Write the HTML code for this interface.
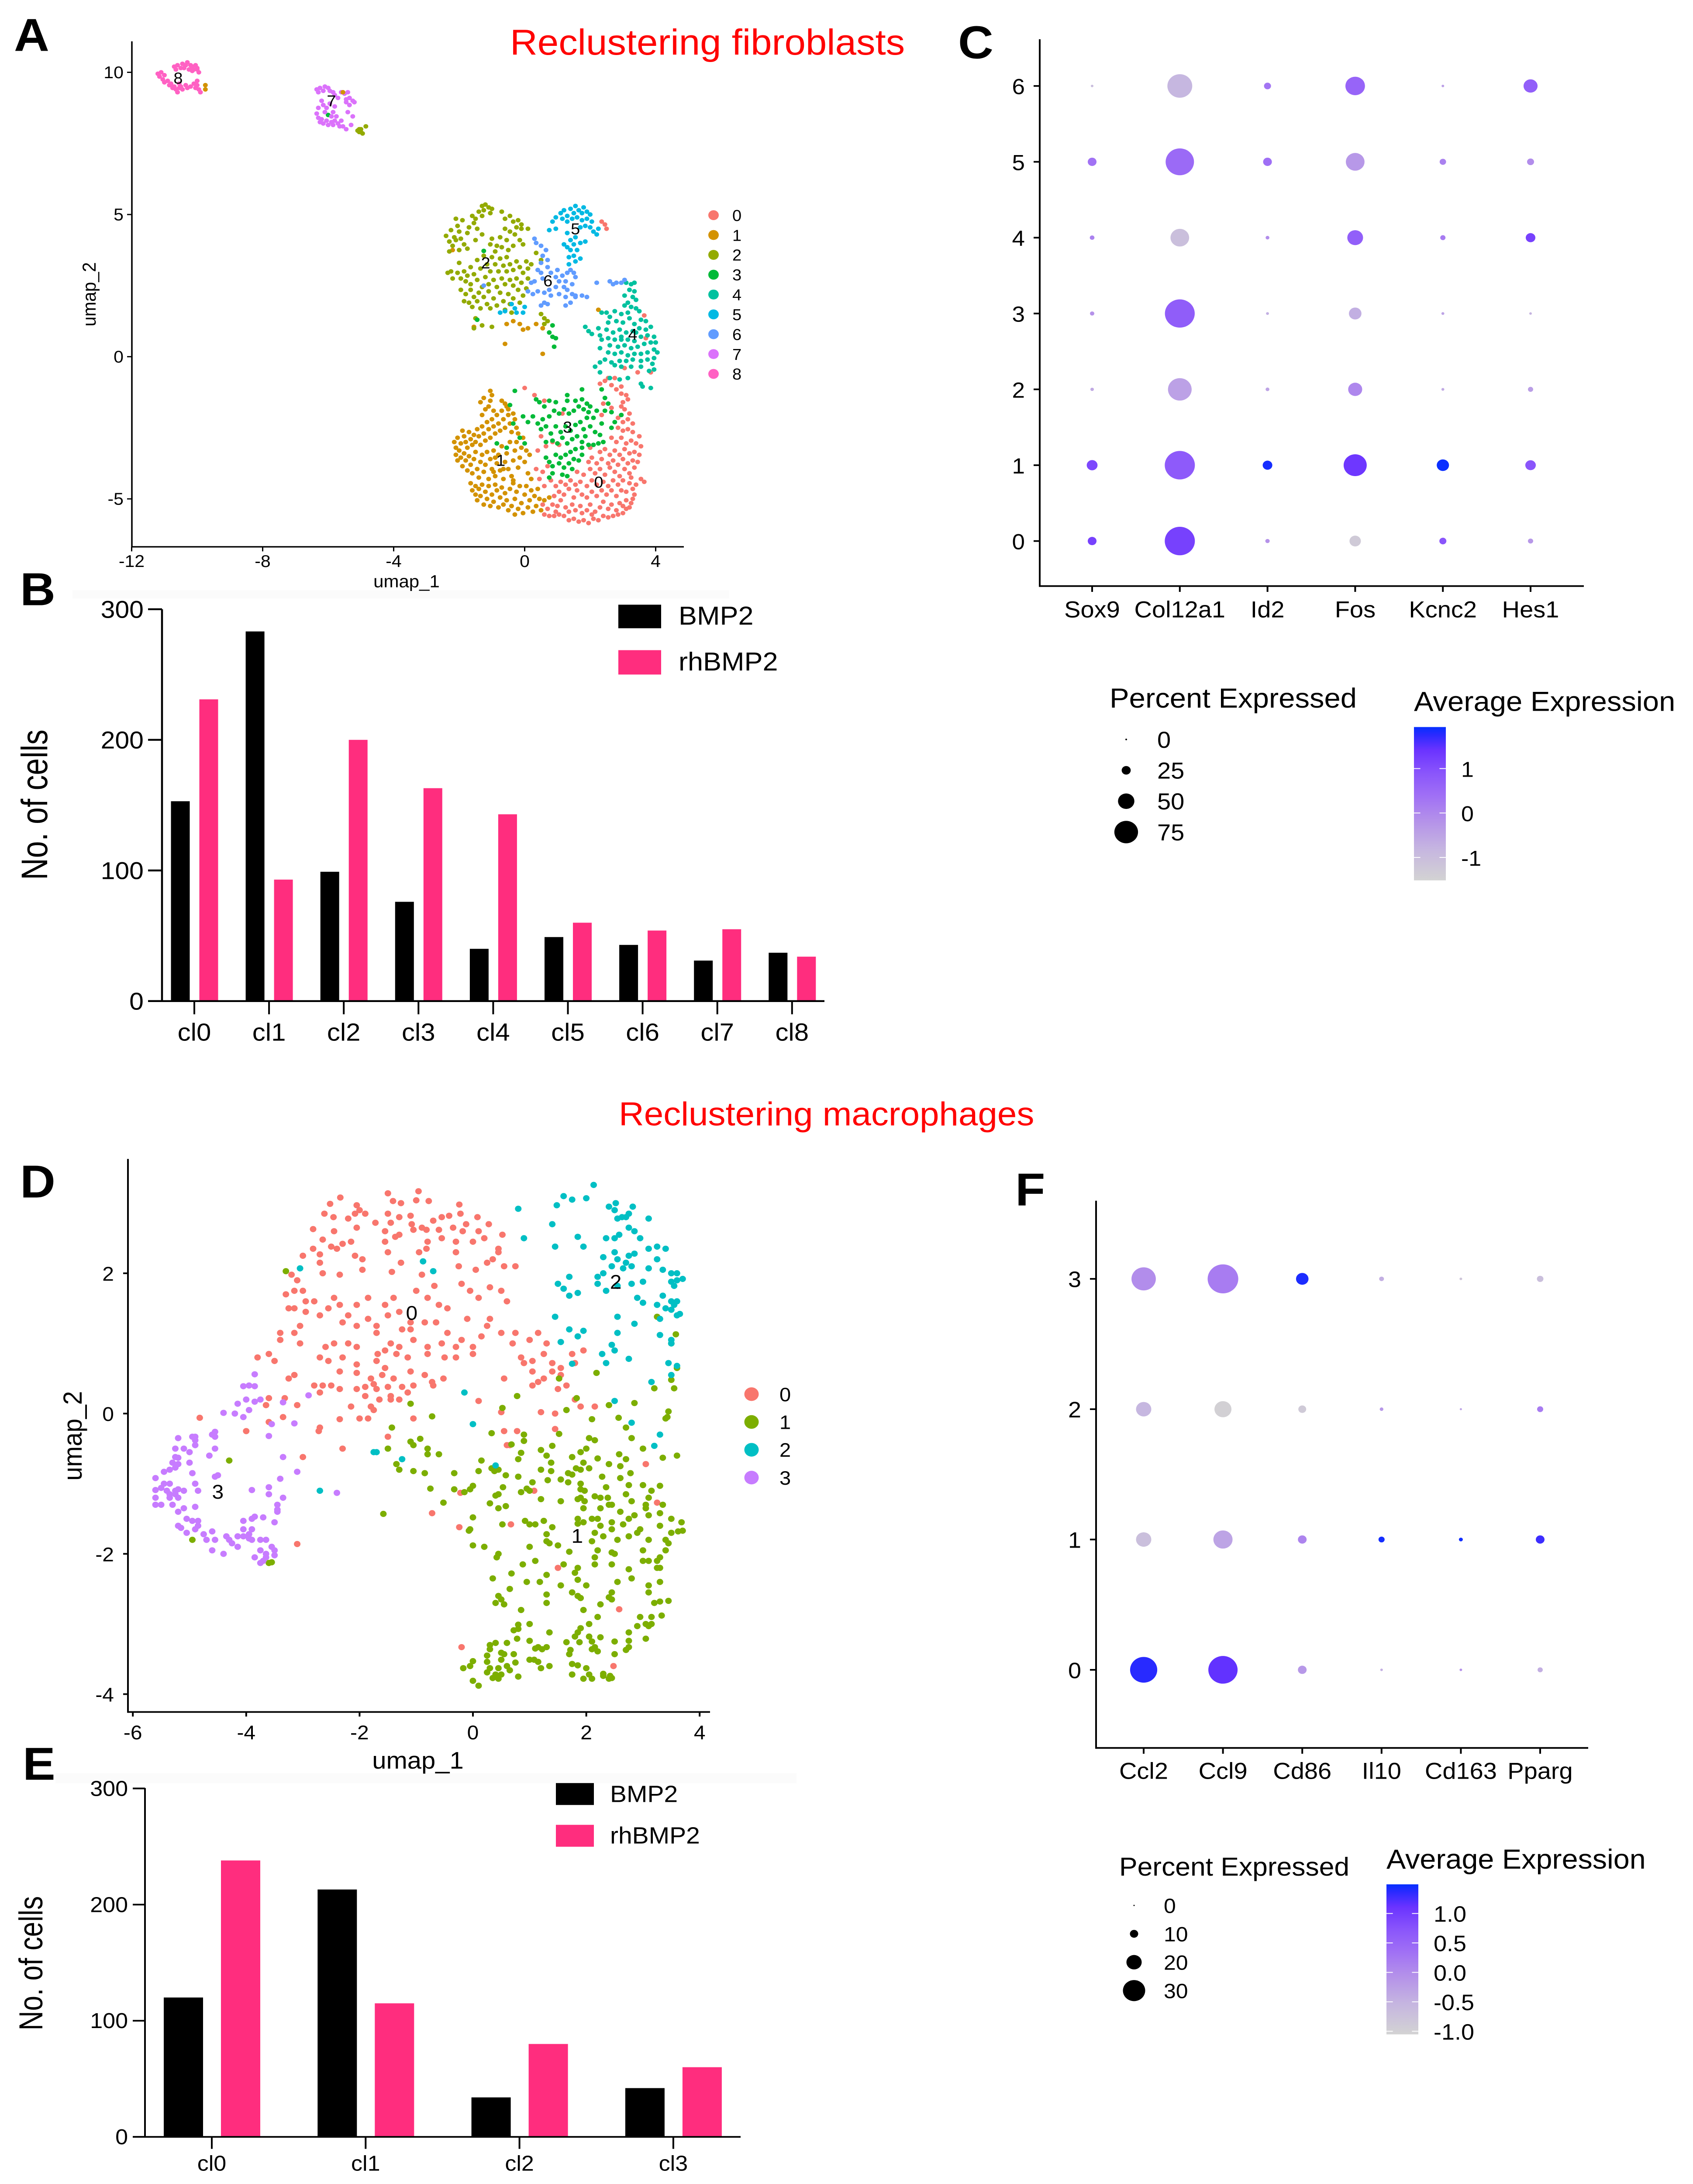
<!DOCTYPE html>
<html lang="en">
<head>
<meta charset="utf-8">
<title>Reclustering fibroblasts and macrophages</title>
<style>
html,body{margin:0;padding:0;background:#fff;overflow:hidden;}
svg{display:block;width:3877px;height:min(5284px,100vh);}
text{font-family:"Liberation Sans",sans-serif;fill:#000;}
</style>
</head>
<body>
<svg id="figure" xmlns="http://www.w3.org/2000/svg" viewBox="0 0 3877 5284" preserveAspectRatio="none">
<rect width="3877" height="5284" fill="#fff"/>
<rect x="166" y="1428" width="1504" height="20" fill="#fbfbfb"/>
<rect x="127" y="4290" width="1697" height="24" fill="#fbfbfb"/>
<text x="32" y="123" font-size="112" font-weight="bold">A</text>
<text x="46" y="1464" font-size="112" font-weight="bold">B</text>
<text x="2194" y="141" font-size="112" font-weight="bold">C</text>
<text x="46" y="2897" font-size="112" font-weight="bold">D</text>
<text x="52" y="4306" font-size="112" font-weight="bold">E</text>
<text x="2325" y="2916" font-size="112" font-weight="bold">F</text>
<text x="1168" y="132" font-size="87" style="fill:#ff0000">Reclustering fibroblasts</text>
<text x="1417" y="2723" font-size="80" style="fill:#ff0000">Reclustering macrophages</text>

<g id="panelA">
<text x="931" y="1421" font-size="42" text-anchor="middle">umap_1</text>
<text transform="translate(219,712) rotate(-90)" font-size="43" text-anchor="middle">umap_2</text>
</g>
<g id="panelB">
<text transform="translate(108,1947) rotate(-90)" font-size="84" text-anchor="middle" textLength="364" lengthAdjust="spacingAndGlyphs">No. of cells</text>
<rect x="1416" y="1463" width="98" height="57" fill="#000"/>
<rect x="1416" y="1573" width="98" height="59" fill="#ff2d7e"/>
<text x="1554" y="1511" font-size="63">BMP2</text>
<text x="1554" y="1622" font-size="63">rhBMP2</text>
</g>
<g id="panelC">
<text x="2541" y="1712" font-size="67">Percent Expressed</text>
<text x="3238" y="1720" font-size="67">Average Expression</text>
</g>
<g id="panelD">
<text x="957" y="4279" font-size="58" text-anchor="middle">umap_1</text>
<text transform="translate(187,3474) rotate(-90)" font-size="60" text-anchor="middle">umap_2</text>
</g>
<g id="panelE">
<text transform="translate(97,4750) rotate(-90)" font-size="76" text-anchor="middle" textLength="325" lengthAdjust="spacingAndGlyphs">No. of cells</text>
<rect x="1273" y="4314" width="87" height="53" fill="#000"/>
<rect x="1273" y="4415" width="87" height="53" fill="#ff2d7e"/>
<text x="1397" y="4360" font-size="57">BMP2</text>
<text x="1397" y="4460" font-size="57">rhBMP2</text>
</g>
<g id="panelF">
<text x="2563" y="4538" font-size="62.4">Percent Expressed</text>
<text x="3175" y="4521" font-size="66.5">Average Expression</text>
</g>
</svg>

<script>
/* ---------- Panel A data: umap_1,umap_2 pairs per cluster ---------- */
const fibroC0=[0.6,-5.55,0.75,-5.6,0.95,-5.45,1.05,-5.55,1.2,-5.6,1.35,-5.75,1.5,-5.7,1.65,-5.8,1.8,-5.75,1.95,-5.85,2.1,-5.7,2.25,-5.75,2.4,-5.6,2.55,-5.65,2.7,-5.6,2.85,-5.55,3.0,-5.5,3.1,-5.35,3.2,-5.3,3.25,-5.15,3.3,-5.0,3.35,-4.85,0.55,-5.2,0.7,-5.35,0.85,-5.2,1.0,-5.25,1.1,-5.05,1.25,-5.3,1.35,-5.45,1.45,-5.2,1.55,-5.4,1.7,-5.25,1.75,-5.5,1.9,-5.4,2.0,-5.2,2.15,-5.45,2.3,-5.3,2.4,-5.1,2.55,-5.35,2.65,-5.2,2.8,-5.4,2.9,-5.15,3.0,-5.25,3.1,-5.05,0.9,-4.9,1.05,-4.75,1.2,-4.85,1.35,-4.65,1.5,-4.95,1.6,-4.7,1.75,-4.85,1.9,-4.95,2.05,-4.75,2.2,-4.9,2.35,-4.7,2.5,-4.85,2.65,-4.7,2.8,-4.9,2.95,-4.7,3.1,-4.75,3.3,-4.65,3.4,-4.5,3.55,-4.3,3.65,-4.4,3.2,-4.45,3.0,-4.35,2.85,-4.5,2.7,-4.35,2.55,-4.55,2.4,-4.4,2.2,-4.5,2.05,-4.35,1.9,-4.55,1.7,-4.4,1.55,-4.5,1.4,-4.35,1.25,-4.5,1.1,-4.4,0.95,-4.55,0.8,-4.35,0.6,-4.55,0.45,-4.3,0.35,-3.95,0.55,-4.05,0.7,-3.85,1.6,-4.05,1.8,-4.15,2.0,-3.95,2.15,-4.1,2.3,-3.95,2.45,-4.15,2.6,-3.9,2.75,-4.05,2.9,-4.2,3.05,-3.95,3.2,-4.1,3.35,-3.9,3.45,-3.7,3.3,-3.65,3.15,-3.75,3.0,-3.6,2.85,-3.8,2.7,-3.65,2.55,-3.75,2.35,-3.6,2.2,-3.75,2.05,-3.55,1.95,-3.7,3.5,-3.45,3.35,-3.35,3.2,-3.4,3.05,-3.25,2.9,-3.45,2.75,-3.3,2.6,-3.45,2.45,-3.25,2.3,-3.35,0.4,-3.3,0.65,-3.15,0.85,-3.0,1.05,-3.1,2.0,-3.2,3.55,-3.15,3.4,-3.05,3.25,-2.95,3.1,-3.05,2.95,-2.85,2.8,-3.0,2.65,-2.85,3.5,-2.8,3.3,-2.65,3.15,-2.55,3.0,-2.6,2.85,-2.5,3.3,-2.35,3.15,-2.2,3.0,-2.3,2.85,-2.15,3.2,-2.0,3.05,-1.85,2.95,-1.75,3.0,-1.6,3.15,-1.5,3.1,-1.35,2.95,-1.3,2.8,-1.15,2.95,-1.05,2.65,-1.0,2.45,-0.85,2.75,-0.75,2.55,-0.75,3.45,-0.55,3.05,-0.4,2.65,-1.8,2.4,-1.65,2.35,-2.05,0.0,-1.1,0.3,-1.35,0.6,-1.55,2.3,-0.95,3.85,-0.55,3.7,0.65,3.65,1.45,1.15,-2.0,0.5,-2.8,2.35,4.75,2.45,4.65,2.5,4.5,0.9,-5.6,2.05,-5.55,3.25,-4.25];
const fibroC1=[-2.15,-3.0,-2.1,-3.2,-2.0,-3.3,-2.05,-2.85,-1.95,-3.05,-1.9,-2.6,-1.85,-2.8,-1.8,-3.0,-1.75,-3.2,-1.7,-2.65,-1.65,-2.9,-1.6,-3.1,-1.55,-2.75,-1.5,-3.0,-1.45,-2.55,-1.4,-2.8,-1.35,-3.1,-1.3,-2.45,-1.25,-2.7,-1.2,-2.95,-1.15,-2.3,-1.1,-2.55,-1.05,-2.85,-1.0,-2.2,-0.95,-2.45,-0.9,-2.7,-0.85,-2.05,-0.8,-2.35,-0.75,-2.6,-0.7,-1.9,-0.65,-2.2,-0.6,-2.5,-0.55,-1.75,-0.5,-2.05,-0.45,-2.35,-0.4,-2.65,-0.35,-2.0,-1.3,-2.05,-1.2,-1.85,-1.35,-1.6,-1.25,-1.45,-1.05,-1.2,-1.05,-1.55,-1.0,-1.35,-1.1,-1.75,-0.95,-1.9,-0.7,-1.55,-0.6,-1.65,-0.5,-1.85,-0.3,-2.2,-0.25,-2.5,-0.2,-2.7,-2.1,-3.45,-2.05,-3.65,-1.95,-3.55,-1.9,-3.85,-1.85,-3.4,-1.8,-3.65,-1.75,-4.0,-1.7,-3.5,-1.65,-3.8,-1.6,-4.1,-1.55,-3.6,-1.5,-3.35,-1.45,-3.95,-1.4,-4.25,-1.35,-3.7,-1.3,-3.45,-1.25,-4.05,-1.2,-3.8,-1.15,-3.35,-1.1,-4.3,-1.05,-3.6,-1.0,-3.95,-0.95,-3.3,-0.9,-4.2,-0.85,-3.75,-0.8,-3.45,-0.75,-4.0,-0.7,-3.15,-0.65,-4.3,-0.6,-3.7,-0.55,-3.4,-0.5,-3.95,-0.45,-3.0,-0.4,-4.2,-0.35,-3.65,-0.3,-3.3,-0.25,-3.0,-0.2,-3.9,-0.15,-3.55,-0.1,-3.2,-0.05,-2.85,0.0,-3.7,0.05,-3.3,0.1,-4.1,0.15,-3.45,0.2,-4.3,-1.65,-4.45,-1.6,-4.7,-1.5,-4.55,-1.5,-4.85,-1.45,-5.05,-1.4,-4.65,-1.35,-4.9,-1.3,-4.5,-1.25,-5.2,-1.2,-4.75,-1.15,-5.0,-1.1,-4.55,-1.05,-5.25,-1.0,-4.85,-0.95,-5.1,-0.9,-4.5,-0.85,-4.7,-0.8,-5.3,-0.75,-4.95,-0.7,-4.6,-0.65,-5.2,-0.6,-4.8,-0.55,-5.05,-0.5,-5.4,-0.45,-4.65,-0.4,-5.25,-0.35,-4.45,-0.3,-5.0,-0.3,-5.55,-0.25,-4.75,-0.2,-5.35,-0.15,-4.55,-0.1,-5.15,-0.05,-5.5,0.0,-4.85,0.05,-4.55,0.1,-5.3,0.15,-5.05,0.2,-4.7,0.25,-5.45,0.3,-4.9,0.35,-5.25,0.4,-4.65,0.45,-5.0,0.5,-5.4,0.6,-5.05,0.75,-4.95,-0.55,1.15,-0.35,1.25,-0.05,0.95,0.1,1.0,0.35,1.15,0.55,1.0,-0.6,0.45,0.55,0.1,-0.15,1.15,-1.55,1.05,-2.2,3.75,2.25,1.65,-0.95,-4.05,-0.9,-3.55,-0.65,-3.95,-0.35,-4.35];
const fibroC2=[-1.4,5.1,-1.3,5.3,-1.25,5.15,-1.2,5.35,-1.1,5.25,-1.05,5.05,-1.0,5.2,-1.3,4.95,-1.5,4.85,-1.6,4.95,-1.55,4.7,-1.45,4.5,-1.7,4.55,-1.75,4.35,-1.9,4.8,-2.05,4.6,-2.1,4.85,-2.0,4.4,-2.15,4.2,-2.25,4.45,-2.4,4.25,-2.3,4.05,-2.2,3.9,-2.1,4.1,-1.95,4.15,-1.85,3.95,-1.75,3.8,-2.3,3.7,-2.0,3.75,-1.5,4.1,-1.3,4.3,-0.7,5.1,-0.6,4.85,-0.45,4.95,-0.35,4.75,-0.2,4.8,-0.1,4.5,-0.1,4.65,-0.25,4.55,-0.45,4.4,-0.6,4.5,-0.75,4.2,-0.55,4.1,-0.3,4.3,-0.15,4.1,0.1,4.5,-0.85,3.9,-1.0,4.15,-1.05,3.95,-0.9,3.7,-0.7,3.85,-0.5,3.75,-0.35,3.9,-0.05,3.95,0.35,3.65,0.5,3.4,-2.0,3.3,-2.25,3.0,-2.35,2.95,-2.2,2.75,-2.05,2.95,-1.95,2.75,-1.85,3.0,-1.8,2.65,-1.75,2.85,-1.65,2.55,-1.65,3.15,-1.55,2.9,-1.45,3.4,-1.45,2.7,-1.35,3.1,-1.3,2.45,-1.25,3.55,-1.2,2.8,-1.15,3.25,-1.1,2.55,-1.05,3.0,-1.0,3.5,-0.95,2.7,-0.9,3.25,-0.85,2.45,-0.8,3.0,-0.75,3.45,-0.7,2.75,-0.65,3.2,-0.6,2.55,-0.55,3.0,-0.55,3.5,-0.45,2.7,-0.45,3.25,-0.35,2.5,-0.35,3.05,-0.25,2.75,-0.25,3.35,-0.15,3.15,-0.1,2.6,-0.05,2.95,0.05,3.35,0.1,3.1,0.1,2.75,0.2,3.25,-1.95,2.35,-1.8,2.2,-1.65,2.35,-1.55,2.1,-1.4,2.25,-1.85,1.95,-1.7,1.9,-1.6,1.75,-1.45,1.95,-1.35,1.7,-1.25,2.1,-1.15,1.85,-1.1,2.3,-1.05,1.7,-0.95,2.05,-0.85,1.8,-0.75,2.25,-0.65,1.95,-0.6,1.65,-0.5,2.2,-0.45,1.85,-0.35,2.05,-0.2,2.35,-0.15,1.9,-0.05,2.15,0.05,2.4,-1.5,1.35,-1.55,1.0,-1.3,1.1,-1.0,1.05,0.5,1.5,0.6,1.35,0.6,1.15,-0.4,1.55,-5.0,7.9,0.7,1.25];
const fibroC3=[-0.3,-1.2,0.35,-1.5,0.45,-1.6,0.6,-1.75,0.75,-1.55,0.95,-1.6,1.3,-1.35,1.3,-1.55,1.55,-1.55,1.75,-1.15,1.75,-1.5,1.9,-1.65,2.0,-1.75,2.35,-1.15,2.45,-1.45,2.55,-1.65,2.45,-1.9,2.65,-1.95,2.95,-2.05,2.75,-2.3,2.65,-2.5,2.35,-2.35,2.2,-1.9,2.1,-2.15,1.95,-1.95,1.8,-1.85,1.65,-1.75,1.5,-1.9,1.35,-2.0,1.2,-1.85,1.05,-2.0,0.9,-1.9,0.75,-2.1,0.55,-2.2,0.4,-2.35,0.25,-2.1,0.1,-2.3,-0.05,-2.1,-0.35,-2.35,-0.45,-1.7,0.5,-2.55,0.65,-2.45,0.8,-2.7,0.95,-2.45,1.1,-2.65,1.25,-2.45,1.4,-2.6,1.55,-2.4,1.7,-2.3,1.8,-2.55,1.9,-2.15,2.0,-2.45,1.85,-2.8,1.75,-3.0,1.6,-2.8,1.45,-2.9,1.3,-3.05,1.15,-2.85,1.0,-3.05,0.85,-2.95,0.65,-3.0,1.75,-3.2,1.95,-3.1,2.15,-2.65,2.3,-2.75,2.4,-3.0,2.25,-3.05,2.1,-3.1,1.55,-3.25,1.4,-3.35,1.25,-3.45,1.1,-3.55,0.95,-3.45,0.75,-3.7,0.65,-3.55,0.85,-3.85,1.05,-3.75,1.2,-3.9,1.35,-3.75,1.5,-3.6,1.65,-3.65,1.75,-3.45,1.45,-3.95,1.3,-4.2,1.15,-4.15,0.85,-4.1,0.75,-4.25,-0.85,-3.05,-0.55,-3.2,-0.15,-2.85,0.0,-3.05,-1.45,1.3,-1.25,3.72,0.85,1.1,0.75,0.85,0.95,0.65,0.85,0.7,0.9,0.35,-6.0,8.5];
const fibroC4=[3.1,2.6,3.25,2.55,3.35,2.6,3.2,2.35,3.35,2.3,3.05,2.15,3.3,2.1,3.4,2.0,3.15,1.9,3.05,1.8,3.25,1.75,3.4,1.7,3.5,1.6,3.15,1.55,2.95,1.5,2.75,1.6,2.5,1.55,2.35,1.55,2.6,1.4,2.55,1.2,2.8,1.25,3.0,1.2,3.2,1.35,3.35,1.15,3.55,1.3,3.7,1.25,3.85,1.05,3.7,0.95,3.5,1.0,3.3,0.9,3.1,0.85,2.9,0.95,2.7,0.85,2.5,0.95,2.25,1.0,1.85,1.05,1.95,0.9,2.05,0.8,2.3,0.75,2.35,0.6,2.55,0.65,2.75,0.6,2.95,0.7,3.15,0.6,3.35,0.55,3.55,0.7,3.75,0.75,3.95,0.7,4.0,0.5,3.85,0.5,3.65,0.45,3.45,0.35,3.25,0.3,3.05,0.4,2.85,0.35,2.6,0.4,2.3,0.3,2.55,0.15,2.75,0.1,2.95,0.15,3.15,0.05,3.35,0.1,3.55,0.1,3.75,0.15,3.95,0.25,4.05,0.15,3.95,-0.05,3.75,-0.1,3.55,-0.15,3.3,-0.1,3.1,-0.15,2.9,-0.15,2.65,-0.2,2.45,-0.1,2.3,-0.2,2.15,-0.35,2.3,-0.55,2.75,-0.3,2.95,-0.35,3.25,-0.35,3.55,-0.35,3.9,-0.25,3.95,-0.45,3.8,-0.5,2.6,-0.75,2.9,-0.8,3.15,-0.75,3.55,-0.95,3.6,-1.05,3.85,-1.1,2.95,0.6,3.4,0.85];
const fibroC5=[1.1,5.05,1.2,5.15,1.3,4.95,1.4,5.2,1.5,5.05,1.55,5.3,1.65,5.15,1.75,5.05,1.8,5.25,1.9,5.1,2.0,5.0,1.15,4.85,1.3,4.75,1.45,4.85,1.6,4.9,1.75,4.8,1.9,4.85,2.05,4.75,2.0,4.55,1.85,4.6,1.7,4.55,2.1,4.4,2.25,4.5,2.2,4.3,0.85,4.75,0.95,4.5,0.95,4.9,0.75,4.45,1.3,4.35,1.4,4.1,1.55,4.2,1.5,3.95,1.7,4.0,1.85,4.05,1.6,3.75,1.4,3.75,1.3,3.85,1.2,3.95,1.35,3.5,1.5,3.55,1.7,3.45,1.55,3.35,1.35,3.25,-0.4,1.85,-0.3,1.7,-0.6,1.6,-0.75,1.55,-0.25,1.55,-0.05,1.55,0.0,1.75];
const fibroC6=[0.3,4.15,0.35,4.0,0.5,3.9,0.65,3.75,0.55,3.55,0.7,3.4,0.5,3.3,0.7,3.15,0.5,2.95,0.4,3.05,0.3,2.65,0.55,2.75,0.2,2.6,0.4,2.3,0.25,2.2,0.1,2.3,0.6,2.25,0.75,2.35,0.8,2.95,0.95,2.8,1.0,3.05,1.15,2.85,1.3,2.95,1.4,3.05,1.55,2.8,1.5,2.95,1.25,2.65,1.05,2.65,1.45,2.55,1.2,2.45,0.95,2.45,0.8,2.15,1.05,2.2,1.3,2.35,1.55,2.1,1.45,2.2,1.25,2.1,1.4,1.9,1.25,1.8,1.55,2.15,1.75,2.15,1.9,2.1,2.2,2.6,2.6,2.65,2.7,2.55,2.8,2.6,2.95,2.6,3.05,2.7,0.6,1.9,0.5,1.8,0.7,1.85,-1.25,2.5];
const fibroC7=[-6.35,9.4,-6.3,9.3,-6.25,9.45,-6.15,9.35,-6.1,9.5,-6.0,9.45,-5.95,9.35,-5.85,9.3,-5.8,9.2,-5.7,9.1,-5.6,9.3,-5.5,9.25,-5.45,9.05,-5.4,9.3,-5.35,9.1,-5.25,9.0,-5.2,8.95,-5.35,8.85,-5.45,8.95,-6.2,9.0,-6.15,8.85,-6.3,8.75,-6.35,8.55,-6.3,8.4,-6.25,8.25,-6.2,8.35,-6.15,8.2,-6.05,8.3,-6.0,8.15,-5.9,8.25,-5.85,8.15,-5.8,8.3,-5.7,8.2,-5.65,8.1,-5.6,8.3,-5.55,8.1,-5.45,8.0,-5.3,8.15,-5.25,8.45,-5.4,8.6,-5.85,8.6,-5.8,8.8,-5.95,8.9,-5.75,8.45,-6.1,8.6,-6.05,8.75,-5.9,8.45];
const fibroC8=[-11.2,9.95,-11.15,9.85,-11.1,10.0,-11.05,9.75,-11.0,9.9,-11.0,9.65,-10.9,9.7,-10.85,9.55,-10.8,9.6,-10.75,9.45,-10.7,9.5,-10.65,9.4,-10.6,9.3,-10.55,9.45,-10.55,9.6,-10.5,9.5,-10.45,9.4,-10.7,10.2,-10.65,10.1,-10.6,10.25,-10.5,10.15,-10.45,10.3,-10.4,10.15,-10.35,10.25,-10.3,10.35,-10.25,10.1,-10.2,10.25,-10.15,10.05,-10.15,10.2,-10.1,10.1,-10.05,10.25,-10.0,10.1,-9.95,10.0,-10.0,10.15,-10.35,9.55,-10.3,9.45,-10.2,9.5,-10.1,9.6,-10.05,9.45,-10.0,9.55,-9.95,9.4,-9.9,9.3,-10.0,9.7];
const fibroStrays1=[-9.75,9.55,-9.75,9.4,-5.55,9.3];
const fibroStrays2=[-5.1,7.95,-5.05,7.9,-5.0,8.0,-4.95,7.85,-4.85,8.1,-5.05,8.0];
const fibroLabels=['0','1','2','3','4','5','6','7','8'];
const fibroLabelX=[2.26,-0.73,-1.19,1.31,3.3,1.55,0.71,-5.9,-10.58];
const fibroLabelY=[-4.41,-3.64,3.3,-2.47,0.79,4.5,2.67,9.0,9.8];
const fibroXTicks=[-12,-8,-4,0,4];
const fibroYTicks=[-5,0,5,10];

/* ---------- Panel B data ---------- */
const fibroCategories=['cl0','cl1','cl2','cl3','cl4','cl5','cl6','cl7','cl8'];
const fibroBmp2=[153,283,99,76,40,49,43,31,37];
const fibroRhBmp2=[231,93,200,163,143,60,54,55,34];
const fibroCountTicks=[0,100,200,300];

/* ---------- Panel C data ---------- */
const fibroGenes=['Sox9','Col12a1','Id2','Fos','Kcnc2','Hes1'];
const fibroRows=[0,1,2,3,4,5,6];
const fibroPct=[[24,97,9,33,18,12],[31,97,27,73,36,30],[6,75,7,42,4,12],[9,96,4,37,4,3],[10,58,7,48,12,27],[24,91,24,58,16,18],[3,79,18,61,3,42]];
const fibroAvg=[[1.2,1.2,-0.2,-1.3,0.9,-0.3],[1.1,0.8,1.85,1.35,1.9,0.9],[-0.6,-0.45,-0.5,0.0,-0.6,-0.4],[-0.2,0.75,-0.7,-0.7,-0.5,-0.8],[0.1,-1.05,-0.1,0.7,0.2,1.2],[0.35,0.5,0.4,-0.3,0.1,-0.1],[-1.0,-0.85,0.3,0.6,-0.4,0.7]];
const fibroSizeLegend=[0,25,50,75];
const fibroColorTicks=[1,0,-1];

/* ---------- Panel D data ---------- */
const macroC0=[-1.5,3.14,-0.96,3.17,-2.34,3.08,-2.52,2.99,-2.05,2.97,-1.41,3.03,-1.27,3.0,-1.0,3.04,-0.78,3.03,-0.24,2.98,-2.0,2.9,-2.62,2.85,-2.46,2.8,-2.2,2.78,-2.08,2.85,-1.9,2.85,-1.72,2.72,-1.5,2.85,-1.45,2.72,-1.3,2.8,-1.1,2.82,-1.08,2.7,-0.9,2.65,-0.7,2.75,-0.55,2.8,-0.42,2.82,-0.22,2.85,-0.12,2.7,0.08,2.8,0.28,2.7,-2.82,2.63,-2.45,2.6,-2.05,2.65,-1.55,2.6,-1.3,2.55,-1.05,2.62,-0.82,2.62,-0.6,2.62,-0.35,2.65,-0.18,2.6,0.1,2.6,0.52,2.55,-2.65,2.48,-2.82,2.35,-2.5,2.38,-2.3,2.42,-2.15,2.45,-1.55,2.45,-1.37,2.52,-0.8,2.45,-0.55,2.5,-0.3,2.45,0.0,2.45,0.2,2.5,0.45,2.35,-2.7,2.27,-2.4,2.35,-2.08,2.25,-1.95,2.2,-1.5,2.3,-1.27,2.15,-0.95,2.3,-0.82,2.35,-0.3,2.3,0.35,2.2,0.45,2.3,-3.0,2.25,-2.7,2.15,-2.65,2.0,-2.35,1.98,-1.95,2.05,-1.43,2.02,-0.9,1.98,-0.68,1.82,-0.25,2.1,0.25,2.15,0.05,2.05,0.55,2.1,0.75,2.1,-3.2,1.98,-3.15,1.75,-3.1,1.9,-3.0,1.75,-2.95,1.6,-3.3,1.7,-3.25,1.5,-3.15,1.5,-2.95,1.45,-2.8,1.6,-2.7,1.4,-2.55,1.5,-2.45,1.65,-2.35,1.55,-2.2,1.4,-2.05,1.55,-1.85,1.65,-1.55,1.55,-1.4,1.65,-1.3,1.45,-1.0,1.75,-0.8,1.65,-0.6,1.55,-0.45,1.5,-0.2,1.85,-0.05,1.75,0.1,1.65,0.3,1.8,0.5,1.75,0.6,1.6,-0.1,1.35,0.3,1.35,-2.3,1.3,-2.05,1.25,-1.85,1.35,-1.7,1.25,-1.5,1.4,-1.25,1.2,-1.1,1.3,-0.85,1.3,-0.65,1.3,-0.45,1.15,-0.2,1.05,0.15,1.1,0.25,1.25,0.5,1.15,-3.4,1.15,-3.4,1.05,-3.15,1.15,-3.05,1.0,-3.05,1.25,-2.6,0.95,-2.45,1.0,-2.2,1.0,-2.05,0.95,-1.7,1.15,-1.55,0.9,-1.45,1.0,-1.3,0.95,-1.1,1.2,-1.05,1.05,-0.8,0.95,-0.55,1.0,-0.3,0.95,0.0,0.95,0.7,1.0,0.75,1.15,1.0,1.05,1.15,1.15,1.3,1.0,-3.8,0.8,-3.6,0.85,-3.5,0.75,-2.7,0.8,-2.55,0.75,-2.3,0.8,-2.05,0.7,-1.68,0.85,-1.7,0.75,-1.55,0.65,-1.35,0.85,-1.15,0.8,-0.8,0.85,-0.5,0.8,-0.3,0.8,0.0,0.85,0.85,0.8,0.9,0.72,1.05,0.75,1.25,0.85,1.4,0.72,1.75,0.85,1.95,0.9,-3.15,0.55,-3.25,0.5,-2.35,0.6,-2.05,0.58,-1.8,0.5,-1.75,0.42,-1.6,0.55,-1.4,0.5,-1.1,0.6,-0.85,0.55,-0.7,0.4,-0.52,0.5,1.05,0.6,1.25,0.5,1.4,0.6,1.55,0.55,0.55,0.5,1.55,0.65,1.8,0.72,-2.65,0.4,-2.8,0.4,-2.5,0.4,-2.35,0.35,-2.05,0.35,-1.9,0.38,-1.7,0.35,-1.5,0.38,-1.25,0.38,-1.05,0.4,-0.72,0.45,-2.7,0.3,-1.9,0.25,-1.45,0.25,-1.15,0.3,1.05,0.4,1.15,0.45,1.5,0.35,1.65,0.4,-3.6,0.22,-3.32,0.22,-3.1,0.12,-2.15,0.1,-1.8,0.1,-1.65,0.2,-1.45,0.2,-1.3,0.2,0.1,0.18,1.8,0.2,1.9,0.1,2.15,0.1,0.5,0.02,1.2,0.02,1.45,0.0,-3.65,0.12,-3.6,-0.12,-3.35,-0.05,-2.35,-0.08,-2.0,-0.07,-1.85,-0.07,-1.75,0.05,-1.05,-0.07,-4.82,-0.06,-4.0,-0.25,-2.7,-0.2,-2.72,-0.25,0.55,-0.25,0.78,-0.25,1.45,-0.22,-1.5,-0.33,-3.0,-0.62,-2.3,-0.5,0.6,-0.45,0.65,-0.45,3.05,-0.72,-0.22,-1.13,1.08,-1.1,3.25,-1.27,-0.72,-1.42,-0.24,-1.62,0.67,-1.58,-3.1,-1.86,1.5,-2.2,2.58,-2.79,-0.2,-3.33,2.48,-3.6];
const macroC1=[-3.3,2.03,3.25,1.38,3.58,1.13,3.5,1.0,3.6,0.65,2.18,0.58,3.5,0.48,3.55,0.36,3.2,0.36,1.52,0.5,0.78,0.25,1.83,0.22,-1.1,0.14,0.52,0.08,2.85,0.15,2.4,0.12,1.65,0.05,3.45,0.03,3.43,-0.05,3.4,-0.07,-0.72,-0.04,2.1,-0.08,2.57,-0.06,2.7,-0.2,-1.43,-0.2,0.33,-0.28,1.52,-0.29,0.9,-0.3,-4.3,-0.67,-0.93,-0.36,-1.1,-0.4,-1.05,-0.45,-0.8,-0.5,-1.5,-0.5,-0.8,-0.58,-0.6,-0.58,0.9,-0.39,0.68,-0.44,1.4,-0.46,2.05,-0.35,2.15,-0.38,2.8,-0.35,3.0,-0.5,3.6,-0.6,3.35,-0.63,2.0,-0.5,1.9,-0.55,1.3,-0.6,1.2,-0.52,0.85,-0.56,2.58,-0.58,2.7,-0.65,1.75,-0.62,1.95,-0.7,2.2,-0.64,0.15,-0.67,0.33,-0.78,0.45,-0.8,0.8,-0.65,1.38,-0.7,1.9,-0.8,1.82,-0.78,2.05,-0.78,2.4,-0.72,2.6,-0.75,-1.35,-0.72,-1.3,-0.8,-1.05,-0.82,-0.85,-0.85,-0.33,-0.85,0.1,-0.82,0.38,-0.82,1.2,-0.8,1.38,-0.82,1.68,-0.85,1.75,-0.87,2.78,-0.85,2.6,-0.92,2.28,-0.9,0.8,-0.9,1.32,-0.95,1.55,-0.94,1.68,-0.98,0.58,-0.88,1.05,-0.98,0.0,-1.03,1.9,-1.0,2.35,-1.05,2.75,-1.02,3.0,-1.02,3.3,-1.03,3.15,-1.1,0.53,-1.05,0.95,-1.07,1.0,-1.1,1.9,-1.08,1.97,-1.1,2.15,-1.18,2.38,-1.2,-0.75,-1.07,-0.33,-1.08,-0.05,-1.08,-0.15,-1.12,0.4,-1.17,0.85,-1.12,1.55,-1.25,1.9,-1.2,2.25,-1.2,2.7,-1.15,3.1,-1.2,3.05,-1.3,0.45,-1.15,1.2,-1.22,1.85,-1.22,1.97,-1.25,2.45,-1.3,2.8,-1.25,3.35,-1.3,0.3,-1.28,0.58,-1.32,0.45,-1.35,1.95,-1.35,2.25,-1.35,2.4,-1.3,3.05,-1.35,-0.52,-1.27,2.6,-1.4,2.85,-1.45,3.1,-1.45,3.3,-1.42,0.0,-1.48,1.85,-1.5,1.95,-1.55,2.2,-1.5,2.1,-1.5,2.45,-1.55,2.75,-1.5,3.5,-1.5,3.68,-1.55,-1.58,-1.43,0.92,-1.53,1.0,-1.58,1.1,-1.58,1.25,-1.53,1.85,-1.57,2.25,-1.6,2.65,-1.58,3.3,-1.6,3.7,-1.67,-0.07,-1.67,-0.05,-1.65,0.52,-1.58,1.4,-1.62,2.15,-1.7,2.45,-1.65,2.9,-1.7,2.95,-1.65,3.5,-1.7,3.62,-1.68,1.3,-1.72,1.3,-1.82,1.35,-1.85,1.5,-1.88,2.1,-1.82,2.3,-1.75,2.55,-1.8,2.75,-1.75,3.1,-1.8,3.4,-1.8,3.45,-1.85,0.0,-1.88,0.2,-1.9,1.0,-1.9,1.7,-1.97,2.2,-1.95,2.45,-1.98,3.0,-1.95,3.4,-1.95,0.42,-2.05,0.45,-2.0,2.15,-2.05,2.5,-2.0,3.3,-2.05,3.0,-2.1,0.88,-2.15,1.1,-2.1,1.6,-2.15,1.85,-2.2,2.15,-2.15,2.45,-2.15,3.1,-2.1,3.25,-2.1,0.68,-2.28,1.3,-2.3,1.8,-2.27,2.75,-2.22,3.25,-2.2,3.3,-2.2,0.35,-2.35,0.95,-2.4,1.85,-2.37,2.55,-2.4,2.8,-2.35,3.3,-2.4,3.1,-2.45,1.18,-2.4,1.55,-2.45,2.0,-2.45,3.1,-2.55,0.45,-2.6,0.65,-2.5,1.3,-2.58,2.45,-2.55,1.75,-2.55,1.85,-2.6,1.9,-2.63,2.45,-2.65,3.3,-2.68,3.45,-2.67,0.4,-2.7,0.5,-2.65,1.3,-2.7,3.2,-2.7,0.55,-2.72,2.25,-2.72,2.4,-2.62,1.95,-2.8,0.85,-2.8,2.2,-2.9,2.95,-2.9,3.15,-2.9,3.33,-2.88,1.0,-3.0,2.05,-3.0,2.9,-3.03,3.05,-3.0,3.15,-3.0,0.8,-3.01,0.8,-3.07,0.72,-3.09,1.9,-3.06,1.85,-3.12,2.75,-3.12,3.1,-3.03,1.35,-3.12,1.8,-3.18,2.05,-3.18,2.25,-3.19,3.05,-3.21,0.78,-3.21,1.0,-3.24,0.4,-3.27,0.3,-3.3,0.6,-3.27,1.65,-3.26,1.88,-3.26,2.1,-3.25,2.5,-3.25,2.75,-3.24,1.3,-3.33,1.15,-3.33,2.15,-3.33,2.75,-3.33,0.3,-3.36,1.1,-3.35,1.22,-3.36,1.72,-3.37,2.1,-3.36,2.7,-3.37,0.5,-3.41,0.55,-3.43,0.25,-3.45,0.72,-3.43,1.7,-3.43,2.2,-3.39,2.5,-3.43,0.5,-3.51,0.0,-3.53,0.75,-3.55,1.0,-3.51,1.08,-3.51,1.15,-3.54,1.75,-3.57,0.25,-3.54,-0.05,-3.6,0.3,-3.63,0.65,-3.66,0.45,-3.63,1.2,-3.63,1.35,-3.6,1.85,-3.59,-0.17,-3.63,0.25,-3.69,0.4,-3.72,0.5,-3.72,0.6,-3.6,1.75,-3.72,2.05,-3.72,2.0,-3.63,2.3,-3.74,2.3,-3.71,2.42,-3.74,2.45,-3.77,0.4,-3.75,0.8,-3.75,0.0,-3.81,0.1,-3.88,0.35,-3.77,0.45,-3.78,1.75,-3.72,1.95,-3.78,2.1,-3.78,2.4,-3.78,-3.6,-2.13,-4.95,-1.8,-3.55,-2.12];
const macroC2=[2.13,3.26,1.6,3.1,1.48,2.97,2.0,3.07,2.52,3.0,1.75,3.05,2.82,2.95,2.4,2.95,2.5,2.9,0.8,2.92,2.63,2.8,2.7,2.8,2.75,2.85,2.55,2.78,3.1,2.78,1.4,2.7,2.75,2.65,2.85,2.6,1.85,2.52,2.35,2.5,2.5,2.5,2.95,2.5,0.9,2.5,1.95,2.38,2.5,2.3,2.58,2.55,3.25,2.2,3.25,2.38,1.45,2.38,3.1,2.35,3.4,2.35,2.3,2.23,2.85,2.28,3.1,2.07,2.7,2.15,2.55,2.2,2.75,2.25,3.35,2.05,3.5,2.0,3.6,2.0,2.2,1.95,2.2,1.85,1.7,1.95,2.3,2.0,2.45,2.1,2.65,2.07,2.8,2.1,3.5,1.88,3.6,1.9,3.7,1.92,1.5,1.85,1.6,1.78,1.85,1.72,2.55,1.82,2.8,1.85,3.0,1.88,3.55,1.82,3.35,1.68,1.7,1.68,2.35,1.75,2.9,1.65,3.0,1.58,3.25,1.55,3.5,1.6,3.6,1.6,3.55,1.55,3.65,1.42,3.6,1.4,1.45,1.38,2.55,1.38,3.3,1.35,3.4,1.5,3.5,1.48,1.7,1.2,2.55,1.15,2.85,1.28,3.3,1.12,3.5,1.05,1.55,1.02,1.85,1.1,1.95,1.18,2.45,0.98,2.5,0.9,3.5,1.0,2.75,0.78,2.28,0.85,2.35,0.72,1.75,0.71,3.45,0.72,3.6,0.68,3.15,0.45,3.5,0.55,-0.15,0.3,-0.88,2.17,-0.7,2.03,-3.05,2.07,0.0,-0.15,2.5,0.18,2.8,-0.13,3.3,-0.3,3.2,-0.46,-1.75,-0.55,-1.7,-0.55,-1.25,-0.65,0.4,-0.74,-2.7,-1.1];
const macroC3=[-3.85,0.56,-3.95,0.4,-4.05,0.39,-3.85,0.39,-4.15,0.14,-4.0,0.2,-3.85,0.17,-3.95,0.05,-4.2,0.0,-4.4,0.01,-4.05,-0.05,-3.75,0.2,-3.35,0.16,-2.9,0.26,-3.55,-0.15,-3.15,-0.14,-4.55,-0.26,-4.6,-0.3,-4.55,-0.33,-3.6,-0.32,-4.9,-0.33,-4.95,-0.33,-4.9,-0.38,-5.2,-0.35,-4.9,-0.45,-4.55,-0.5,-5.1,-0.5,-5.25,-0.5,-5.0,-0.55,-3.35,-0.62,-4.65,-0.6,-5.2,-0.63,-5.25,-0.62,-5.3,-0.7,-5.0,-0.7,-5.2,-0.72,-5.25,-0.77,-5.35,-0.8,-5.45,-0.83,-4.95,-0.85,-3.1,-0.83,-4.55,-0.9,-4.5,-0.88,-5.6,-0.92,-3.4,-0.93,-5.35,-1.0,-5.45,-1.0,-4.9,-1.0,-5.5,-1.06,-5.6,-1.09,-5.4,-1.1,-5.25,-1.1,-5.2,-1.08,-5.1,-1.1,-4.85,-1.1,-3.9,-1.09,-3.6,-1.05,-5.25,-1.15,-5.35,-1.15,-3.6,-1.15,-2.4,-1.13,-5.6,-1.2,-5.35,-1.2,-5.2,-1.2,-3.35,-1.2,-5.6,-1.3,-5.5,-1.3,-5.3,-1.3,-4.9,-1.33,-3.45,-1.3,-3.45,-1.4,-5.2,-1.4,-5.1,-1.35,-3.45,-1.37,-3.85,-1.47,-4.05,-1.53,-3.9,-1.5,-3.7,-1.48,-5.05,-1.5,-4.95,-1.53,-4.85,-1.53,-3.5,-1.55,-5.2,-1.6,-5.15,-1.63,-4.85,-1.6,-4.6,-1.68,-4.05,-1.65,-3.9,-1.65,-3.95,-1.72,-5.05,-1.7,-4.9,-1.65,-4.75,-1.72,-4.7,-1.8,-4.15,-1.75,-4.05,-1.75,-3.95,-1.78,-3.9,-1.8,-3.75,-1.8,-3.65,-1.8,-4.55,-1.8,-4.35,-1.75,-4.3,-1.8,-4.25,-1.85,-3.55,-1.9,-3.5,-1.95,-4.15,-1.9,-3.75,-1.95,-4.6,-1.95,-4.4,-2.0,-3.65,-2.0,-3.65,-2.05,-3.5,-2.02,-3.85,-2.05,-3.7,-2.1,-3.75,-2.13];
const macroLabels=['0','1','2','3'];
const macroLabelX=[-1.08,1.84,2.52,-4.5];
const macroLabelY=[1.44,-1.74,1.88,-1.11];
const macroXTicks=[-6,-4,-2,0,2,4];
const macroYTicks=[-4,-2,0,2];

/* ---------- Panel E data ---------- */
const macroCategories=['cl0','cl1','cl2','cl3'];
const macroBmp2=[120,213,34,42];
const macroRhBmp2=[238,115,80,60];
const macroCountTicks=[0,100,200,300];

/* ---------- Panel F data ---------- */
const macroGenes=['Ccl2','Ccl9','Cd86','Il10','Cd163','Pparg'];
const macroRows=[0,1,2,3];
const macroPct=[[37,40,10.6,1.9,1.9,5.6],[20,25.6,10.6,6.9,3.8,10.6],[20,22.5,9.4,3.4,1.3,6.9],[33,42,16,5,2,7.5]];
const macroAvg=[[1.38,1.15,-0.15,-0.45,-0.05,-0.45],[-0.7,-0.3,0.1,1.45,1.46,1.3],[-0.55,-1.0,-0.9,-0.15,-0.3,0.2],[0.0,0.2,1.42,-0.45,-0.8,-0.7]];
const macroSizeLegend=[0,10,20,30];
const macroColorTicks=[1,0.5,0,-0.5,-1];

/* shared colour scale */
const scaleStopT=[0,0.2,0.4,0.55,0.7,0.85,0.95,1];
const scaleStopColor=['#d3d3d3','#c6b6e0','#b38fea','#a070f5','#8a55fb','#6a33ff','#2a2aff','#0530ff'];

const clusterColorsA=['#F8766D','#D39200','#93AA00','#00BA38','#00C19F','#00B9E3','#619CFF','#DB72FB','#FF61C3'];
const clusterColorsD=['#F8766D','#7CAE00','#00BFC4','#C77CFF'];

const NS='http://www.w3.org/2000/svg';
function mk(parent,tag,attrs,text){
  const el=document.createElementNS(NS,tag);
  for(const k in attrs) el.setAttribute(k,attrs[k]);
  if(text!==undefined) el.textContent=text;
  parent.appendChild(el);
  return el;
}
function hex(c){return [1,3,5].map(i=>parseInt(c.substr(i,2),16));}
function scaleColor(t){
  t=Math.max(0,Math.min(1,t));
  for(let i=1;i<scaleStopT.length;i++){
    if(t<=scaleStopT[i]){
      const f=(t-scaleStopT[i-1])/(scaleStopT[i]-scaleStopT[i-1]);
      const a=hex(scaleStopColor[i-1]),b=hex(scaleStopColor[i]);
      return 'rgb('+a.map((v,j)=>Math.round(v+(b[j]-v)*f)).join(',')+')';
    }
  }
  return scaleStopColor[scaleStopColor.length-1];
}
function axes(g,x,top,bottom,xStart,xEnd,w){
  const yl=mk(g,'line',{x1:x,x2:x,y1:top,y2:bottom+w/2,stroke:'#000','stroke-width':w});
  
  
  const xl=mk(g,'line',{x1:xStart,x2:xEnd,y1:bottom,y2:bottom,stroke:'#000','stroke-width':w});
  
  
}
function xTicks(g,vals,labels,sx,yAxis,len,w,labelY,size){
  vals.forEach((v,i)=>{
    const t=mk(g,'line',{x1:sx(v),x2:sx(v),y1:yAxis,y2:yAxis+len,stroke:'#000','stroke-width':w});
    
    
    const l=mk(g,'text',{x:sx(v),y:labelY,'font-size':size,'text-anchor':'middle'},labels[i]);
    
    
  });
}
function yTicks(g,vals,sy,xAxis,len,w,labelRight,size,dy){
  vals.forEach(v=>{
    const t=mk(g,'line',{x1:xAxis-len,x2:xAxis,y1:sy(v),y2:sy(v),stroke:'#000','stroke-width':w});
    
    
    const l=mk(g,'text',{x:labelRight,y:sy(v)+dy,'font-size':size,'text-anchor':'end'},String(v));
    
    
  });
}
function scatter(g,series,color,sx,sy,r){
  for(let i=0;i<series.length;i+=2){
    const c=mk(g,'circle',{cx:sx(series[i]).toFixed(1),cy:sy(series[i+1]).toFixed(1),r:r,fill:color});
    
    
  }
}
function clusterLegend(g,labels,colors,cx,tx,firstY,step,r,size,dy){
  labels.forEach((s,i)=>{
    const d=mk(g,'circle',{cx:cx,cy:firstY+i*step,r:r,fill:colors[i]});
    
    
    const l=mk(g,'text',{x:tx,y:firstY+i*step+dy,'font-size':size},s);
    
    
  });
}
function clusterLabels(g,labels,xs,ys,sx,sy,size){
  labels.forEach((s,i)=>{
    const l=mk(g,'text',{x:sx(xs[i]),y:sy(ys[i])+size*0.36,'font-size':size,'text-anchor':'middle'},s);
    
    
  });
}
function bars(g,cats,a,b,cx,sy,y0,width,offA,offB){
  cats.forEach((c,i)=>{
    const r1=mk(g,'rect',{x:cx(i)+offA-width/2,y:sy(a[i]),width:width,height:y0-sy(a[i]),fill:'#000'});
    
    
    const r2=mk(g,'rect',{x:cx(i)+offB-width/2,y:sy(b[i]),width:width,height:y0-sy(b[i]),fill:'#ff2d7e'});
    
    
  });
}
function dots(g,rows,genes,pct,avg,gx,ry,size,tOf){
  rows.forEach((r,i)=>{
    genes.forEach((gene,j)=>{
      const d=mk(g,'circle',{cx:gx(j),cy:ry(r),r:size(pct[i][j])/2,fill:scaleColor(tOf(avg[i][j]))});
      
      
    });
  });
}
function sizeLegend(g,vals,size,cx,tx,ys,fs,dy){
  vals.forEach((v,i)=>{
    const d=mk(g,'circle',{cx:cx,cy:ys(i),r:size(v)/2,fill:'#000'});
    
    
    const l=mk(g,'text',{x:tx,y:ys(i)+dy,'font-size':fs},String(v));
    
    
  });
}
function colorBar(g,id,x,y,w,h,ticks,vy,tx,fs,dy,fmt){
  const defs=mk(g,'defs',{});
  const lg=mk(defs,'linearGradient',{id:id,x1:0,y1:1,x2:0,y2:0});
  scaleStopT.forEach((t,i)=>mk(lg,'stop',{offset:t,'stop-color':scaleStopColor[i]}));
  const b=mk(g,'rect',{x:x,y:y,width:w,height:h,fill:'url(#'+id+')'});
  
  
  ticks.forEach(v=>{
    const t1=mk(g,'line',{x1:x,x2:x+w/5,y1:vy(v),y2:vy(v),stroke:'#fff','stroke-width':2});
    
    
    const t2=mk(g,'line',{x1:x+w-w/5,x2:x+w,y1:vy(v),y2:vy(v),stroke:'#fff','stroke-width':2});
    
    
    const l=mk(g,'text',{x:tx,y:vy(v)+dy,'font-size':fs},fmt(v));
    
    
  });
}

/* Panel A */
(function(){
  const g=document.getElementById('panelA');
  const sx=v=>1201.5+75*v, sy=v=>863-68.8*v;
  axes(g,302,100,1323,302,1566,3.5);
  xTicks(g,fibroXTicks,fibroXTicks.map(String),sx,1323,11,3,1372,41);
  yTicks(g,fibroYTicks,sy,302,11,3,283,41,14);
  const series=[fibroC0,fibroC1,fibroC2,fibroC4,fibroC5,fibroC6,fibroC3,fibroC7,fibroC8];
  const order=[0,1,2,4,5,6,3,7,8];
  series.forEach((s,i)=>scatter(g,s,clusterColorsA[order[i]],sx,sy,5.5));
  scatter(g,fibroStrays1,clusterColorsA[1],sx,sy,5.5);
  scatter(g,fibroStrays2,clusterColorsA[2],sx,sy,5.5);
  clusterLabels(g,fibroLabels,fibroLabelX,fibroLabelY,sx,sy,38);
  clusterLegend(g,fibroLabels,clusterColorsA,1634,1677,520.6,48,12,38,14);
})();

/* Panel B */
(function(){
  const g=document.getElementById('panelB');
  const sy=v=>2422-3.16*v, cx=i=>445+171.1*i;
  bars(g,fibroCategories,fibroBmp2,fibroRhBmp2,cx,sy,2422,43,-32,33);
  axes(g,371,1474,2422,339,1888,4.5);
  xTicks(g,fibroCategories.map((c,i)=>i),fibroCategories,cx,2422,32,4,2518,60);
  yTicks(g,fibroCountTicks,sy,371,32,4.5,329,59,21);
})();

/* Panel C */
(function(){
  const g=document.getElementById('panelC');
  const gx=j=>2501+200.8*j, ry=r=>1309-183.5*r;
  axes(g,2381,95,1418,2381,3627,4);
  xTicks(g,fibroGenes.map((c,i)=>i),fibroGenes,gx,1418,14,4,1494,56);
  yTicks(g,fibroRows,ry,2381,14,4,2347,53,20);
  const size=p=>4+0.67*p;
  const tOf=v=>(v+1.52)/3.45;
  dots(g,fibroRows,fibroGenes,fibroPct,fibroAvg,gx,ry,size,tOf);
  sizeLegend(g,fibroSizeLegend,size,2579,2650,i=>1789+74.7*i,56,20);
  colorBar(g,'gradC',3238,1759,73,371,fibroColorTicks,v=>1967-107.5*v,3346,52,20,v=>String(v));
})();

/* Panel D */
(function(){
  const g=document.getElementById('panelD');
  const sx=v=>1083+129.8*v, sy=v=>3420-169.7*v;
  axes(g,293,2804,4142,293,1626,4);
  xTicks(g,macroXTicks,macroXTicks.map(String),sx,4142,11,4,4208,48);
  yTicks(g,macroYTicks,sy,293,11,4,261,48,18);
  scatter(g,macroC0,clusterColorsD[0],sx,sy,7.5);
  scatter(g,macroC1,clusterColorsD[1],sx,sy,7.5);
  scatter(g,macroC2,clusterColorsD[2],sx,sy,7.5);
  scatter(g,macroC3,clusterColorsD[3],sx,sy,7.5);
  clusterLabels(g,macroLabels,macroLabelX,macroLabelY,sx,sy,48);
  clusterLegend(g,macroLabels,clusterColorsD,1721,1785,3373,67.3,16.5,47,17);
})();

/* Panel E */
(function(){
  const g=document.getElementById('panelE');
  const sy=v=>5170-2.81*v, cx=i=>485+352.3*i;
  bars(g,macroCategories,macroBmp2,macroRhBmp2,cx,sy,5170,90,-65,66);
  axes(g,332,4326,5170,304,1696,4);
  xTicks(g,macroCategories.map((c,i)=>i),macroCategories,cx,5170,29,4,5252,52);
  yTicks(g,macroCountTicks,sy,332,28,4,293,52,18);
})();

/* Panel F */
(function(){
  const g=document.getElementById('panelF');
  const gx=j=>2619+181.6*j, ry=r=>4040-315.3*r;
  axes(g,2510,2905,4229,2510,3637,4);
  xTicks(g,macroGenes.map((c,i)=>i),macroGenes,gx,4229,14,4,4304,56);
  yTicks(g,macroRows,ry,2510,14,4,2476,54,20);
  const size=p=>3+1.6*p;
  const tOf=v=>(v+1.05)/2.55;
  dots(g,macroRows,macroGenes,macroPct,macroAvg,gx,ry,size,tOf);
  sizeLegend(g,macroSizeLegend,size,2597,2665,i=>4610+68.7*i,50,18);
  colorBar(g,'gradF',3175,4559,73,363,macroColorTicks,v=>4772-142.5*v,3283,54,20,v=>v.toFixed(1));
})();
</script>
</body>
</html>
